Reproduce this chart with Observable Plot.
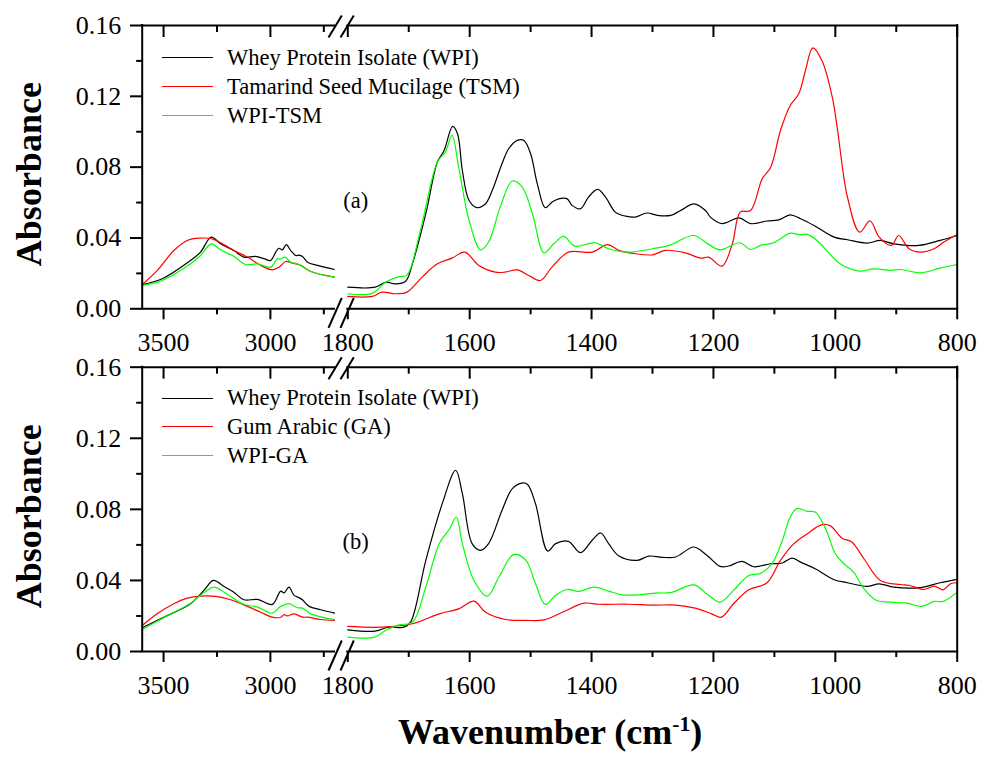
<!DOCTYPE html>
<html><head><meta charset="utf-8">
<script src="https://cdn.jsdelivr.net/npm/d3@7"></script>
<script src="https://cdn.jsdelivr.net/npm/@observablehq/plot@0.6"></script>
<style>
html,body{margin:0;padding:0;background:#fff;}
#wrap{position:relative;width:982px;height:757px;font-family:"Liberation Serif","Times New Roman",serif;color:#000;}
#wrap svg text{font-family:"Liberation Serif","Times New Roman",serif;}
.panel{position:absolute;left:0;}
.row{position:absolute;left:162px;height:0;white-space:nowrap;font-size:22.5px;}
.sw{position:absolute;left:0;top:-0.6px;width:51px;height:0;border-top:1.3px solid;}
.lab{position:absolute;left:65px;top:-13px;line-height:26px;}
#xlabel{position:absolute;left:398px;top:714px;font-size:36px;font-weight:bold;line-height:36px;height:36px;white-space:nowrap;}
#xlabel sup{font-size:0.6em;vertical-align:baseline;position:relative;top:-0.6em;line-height:0;}
</style>
</head><body>
<div id="wrap">
  <div id="pA" class="panel" style="top:0"></div>
  <div id="pB" class="panel" style="top:355px"></div>
  <div id="legA"></div>
  <div id="legB"></div>
  <div id="xlabel">Wavenumber (cm<sup>-1</sup>)</div>
</div>
<script>
// ---------- data (wavenumber cm-1, absorbance) ----------
const seriesA = ["Whey Protein Isolate (WPI)", "Tamarind Seed Mucilage (TSM)", "WPI-TSM"];
const seriesB = ["Whey Protein Isolate (WPI)", "Gum Arabic (GA)", "WPI-GA"];
const colors = ["#000000", "#ff0000", "#00ff00"];
const panelTags = ["(a)", "(b)"];
const xMajor = [3500, 3000, 1800, 1600, 1400, 1200, 1000, 800];
const xMinor = [3250, 2750, 1700, 1500, 1300, 1100, 900];
const yMajor = [0, 0.04, 0.08, 0.12, 0.16];
const yMinor = [0.02, 0.06, 0.10, 0.14];
const xBreak = [3600, 2700, 1800, 800];

// panel (a) – left segment
const wpiA_L = [[3600,.0137],[3506,.0170],[3374,.0273],[3327,.0320],[3277,.0405],[3233,.0367],[3171,.0329],[3124,.0292],[3069,.0296],[3030,.0283],[2999,.0273],[2975,.0320],[2960,.0342],[2944,.0333],[2925,.0363],[2905,.0329],[2881,.0301],[2866,.0303],[2850,.0296],[2826,.0263],[2780,.0245],[2700,.0222]];
const tsmA_L = [[3600,.0137],[3530,.0216],[3452,.0329],[3389,.0386],[3327,.0399],[3280,.0397],[3233,.0373],[3171,.0329],[3108,.0292],[3045,.0245],[2991,.0220],[2960,.0235],[2928,.0267],[2897,.0258],[2858,.0245],[2811,.0211],[2700,.0179]];
const wtA_L = [[3600,.0132],[3506,.0160],[3374,.0254],[3327,.0301],[3277,.0367],[3233,.0333],[3171,.0296],[3116,.0250],[3061,.0254],[2999,.0235],[2967,.0283],[2955,.0280],[2931,.0292],[2905,.0263],[2873,.0254],[2811,.0211],[2700,.0179]];
// panel (a) – right segment
const wpiA_R = [[1800,.0122],[1755,.0122],[1738,.0150],[1722,.0141],[1705,.0156],[1694,.0254],[1672,.0537],[1653,.0829],[1642,.0894],[1628,.1030],[1620,.0989],[1612,.0781],[1601,.0612],[1588,.0571],[1574,.0593],[1563,.0668],[1547,.0819],[1536,.0904],[1522,.0951],[1511,.0951],[1500,.0876],[1489,.0706],[1476,.0571],[1465,.0602],[1454,.0621],[1440,.0621],[1432,.0584],[1418,.0565],[1405,.0631],[1390,.0674],[1377,.0631],[1361,.0546],[1344,.0523],[1328,.0518],[1309,.0541],[1292,.0528],[1270,.0528],[1254,.0555],[1232,.0593],[1213,.0555],[1205,.0518],[1186,.0481],[1158,.0513],[1139,.0481],[1112,.0496],[1093,.0502],[1074,.0531],[1057,.0509],[1035,.0471],[1002,.0405],[980,.0390],[948,.0371],[926,.0386],[904,.0367],[863,.0358],[828,.0386],[800,.0414]];
const tsmA_R = [[1800,.0070],[1760,.0070],[1744,.0094],[1722,.0085],[1703,.0094],[1678,.0179],[1653,.0254],[1629,.0286],[1608,.0320],[1585,.0245],[1558,.0207],[1542,.0207],[1522,.0220],[1503,.0188],[1484,.0160],[1465,.0235],[1438,.0320],[1399,.0320],[1374,.0362],[1355,.0330],[1328,.0311],[1300,.0305],[1279,.0330],[1246,.0316],[1221,.0286],[1208,.0292],[1186,.0241],[1169,.0367],[1156,.0546],[1139,.0555],[1120,.0734],[1106,.0800],[1090,.1007],[1074,.1148],[1060,.1214],[1049,.1346],[1037,.1474],[1022,.1402],[1005,.1195],[997,.1026],[980,.0630],[960,.0433],[943,.0496],[928,.0405],[908,.0358],[896,.0414],[879,.0339],[860,.0320],[838,.0339],[822,.0377],[800,.0420]];
const wtA_R = [[1800,.0085],[1760,.0087],[1738,.0150],[1716,.0182],[1703,.0190],[1681,.0442],[1653,.0829],[1640,.0885],[1629,.0979],[1618,.0800],[1601,.0499],[1582,.0333],[1569,.0377],[1549,.0584],[1530,.0722],[1514,.0688],[1497,.0537],[1478,.0316],[1462,.0367],[1446,.0409],[1427,.0354],[1394,.0373],[1372,.0339],[1339,.0320],[1300,.0339],[1273,.0358],[1232,.0414],[1208,.0364],[1189,.0333],[1157,.0373],[1139,.0335],[1123,.0358],[1101,.0373],[1074,.0427],[1060,.0419],[1046,.0420],[1030,.0386],[992,.0254],[961,.0213],[937,.0226],[909,.0217],[893,.0222],[860,.0203],[828,.0230],[800,.0250]];

// panel (b) – left segment
const wpiB_L = [[3600,.0134],[3499,.0193],[3374,.0269],[3311,.0344],[3267,.0400],[3217,.0366],[3171,.0334],[3124,.0291],[3061,.0293],[2991,.0265],[2952,.0340],[2936,.0330],[2913,.0362],[2889,.0316],[2866,.0303],[2850,.0291],[2819,.0254],[2764,.0235],[2700,.0216]];
const gaB_L = [[3600,.0146],[3530,.0212],[3452,.0269],[3389,.0300],[3327,.0312],[3256,.0310],[3186,.0291],[3108,.0254],[3045,.0221],[2991,.0193],[2952,.0193],[2936,.0207],[2920,.0200],[2889,.0212],[2850,.0193],[2826,.0193],[2764,.0180],[2700,.0175]];
const wgB_L = [[3600,.0124],[3499,.0190],[3374,.0272],[3327,.0316],[3264,.0362],[3217,.0334],[3124,.0265],[3061,.0250],[2991,.0216],[2952,.0254],[2913,.0269],[2873,.0246],[2850,.0244],[2811,.0212],[2700,.0179]];
// panel (b) – right segment
const wpiB_R = [[1800,.0122],[1755,.0115],[1733,.0137],[1708,.0137],[1697,.0165],[1672,.0513],[1645,.0832],[1623,.1020],[1612,.0888],[1596,.0607],[1582,.0569],[1569,.0607],[1547,.0794],[1530,.0917],[1514,.0948],[1505,.0940],[1492,.0832],[1472,.0565],[1459,.0607],[1438,.0620],[1418,.0556],[1399,.0626],[1385,.0667],[1372,.0607],[1355,.0537],[1325,.0513],[1306,.0537],[1284,.0530],[1262,.0532],[1232,.0588],[1210,.0539],[1189,.0479],[1175,.0481],[1153,.0507],[1134,.0477],[1106,.0494],[1087,.0498],[1071,.0526],[1057,.0503],[1033,.0466],[1002,.0404],[980,.0387],[948,.0366],[928,.0381],[904,.0362],[860,.0360],[828,.0387],[800,.0406]];
const gaB_R = [[1800,.0141],[1744,.0137],[1694,.0156],[1650,.0212],[1618,.0240],[1593,.0283],[1574,.0221],[1541,.0180],[1508,.0175],[1478,.0178],[1448,.0221],[1412,.0272],[1388,.0266],[1339,.0266],[1300,.0261],[1262,.0261],[1230,.0244],[1203,.0212],[1187,.0193],[1167,.0269],[1142,.0347],[1112,.0387],[1090,.0513],[1068,.0607],[1046,.0663],[1022,.0714],[1008,.0707],[989,.0638],[973,.0616],[953,.0522],[926,.0400],[893,.0377],[879,.0373],[855,.0349],[838,.0368],[823,.0347],[811,.0381],[800,.0387]];
const wgB_R = [[1800,.0081],[1756,.0081],[1738,.0118],[1716,.0150],[1694,.0165],[1672,.0362],[1650,.0607],[1633,.0691],[1622,.0757],[1612,.0607],[1593,.0400],[1571,.0312],[1552,.0419],[1528,.0545],[1508,.0514],[1492,.0381],[1476,.0265],[1459,.0316],[1440,.0349],[1421,.0338],[1396,.0362],[1372,.0340],[1350,.0319],[1322,.0319],[1295,.0329],[1270,.0332],[1232,.0375],[1208,.0316],[1189,.0278],[1167,.0344],[1142,.0428],[1123,.0439],[1104,.0494],[1087,.0625],[1074,.0757],[1063,.0804],[1046,.0789],[1033,.0785],[1016,.0691],[1000,.0550],[986,.0494],[970,.0447],[953,.0353],[932,.0287],[910,.0278],[883,.0272],[858,.0254],[838,.0282],[823,.0282],[800,.0334]];

// ---------- layout ----------
const FONT = '"Liberation Serif","Times New Roman",serif';
const X_RANGE = [141.7, 334, 347.3, 956.7];
const LEFT_PX_PER_UNIT = (X_RANGE[1] - X_RANGE[0]) / (xBreak[0] - xBreak[1]);

function panel(el, cfg) {
  const {height, marginTop, marginBottom, lines, tag} = cfg;
  const yMax = yMajor[yMajor.length - 1];
  const innerH = height - marginTop - marginBottom;
  const ypp = yMax / innerH;               // data units per pixel (y)
  const xpp = 1 / LEFT_PX_PER_UNIT;        // data units per pixel (x, left segment)
  const K = {stroke: "#000", strokeWidth: 2};
  const marks = [];
  lines.forEach(([L, R], i) => {
    for (const seg of [L, R]) {
      marks.push(Plot.line(seg, {x: d => d[0], y: d => d[1], stroke: colors[i], strokeWidth: 1.2, curve: "catmull-rom"}));
    }
  });
  // frame with break
  marks.push(
    Plot.ruleY([0, yMax], {x1: xBreak[0], x2: xBreak[1], ...K, strokeLinecap: "square"}),
    Plot.ruleY([0, yMax], {x1: xBreak[2], x2: xBreak[3], ...K, strokeLinecap: "square"}),
    Plot.ruleX([xBreak[0], xBreak[3]], {y1: 0, y2: yMax, ...K, strokeLinecap: "square"}),
    // bottom ticks (outward) and top ticks (inward)
    Plot.ruleX(xMajor, {y1: 0, y2: -11 * ypp, ...K}),
    Plot.ruleX(xMinor, {y1: 0, y2: -6 * ypp, ...K}),
    Plot.ruleX(xMajor, {y1: yMax, y2: yMax - 12 * ypp, ...K}),
    Plot.ruleX(xMinor, {y1: yMax, y2: yMax - 7 * ypp, ...K}),
    // left ticks
    Plot.ruleY(yMajor, {x1: xBreak[0], x2: xBreak[0] + 11.7 * xpp, ...K}),
    Plot.ruleY(yMinor, {x1: xBreak[0], x2: xBreak[0] + 5.5 * xpp, ...K}),
    // break marks
    Plot.link([0], {x1: xBreak[1], x2: xBreak[2], y1: -19 * ypp, y2: 11 * ypp, dx: -6, ...K}),
    Plot.link([0], {x1: xBreak[1], x2: xBreak[2], y1: -19 * ypp, y2: 11 * ypp, dx: 6, ...K}),
    Plot.link([0], {x1: xBreak[1], x2: xBreak[2], y1: yMax - 12 * ypp, y2: yMax + 10 * ypp, dx: -6, ...K}),
    Plot.link([0], {x1: xBreak[1], x2: xBreak[2], y1: yMax - 12 * ypp, y2: yMax + 10 * ypp, dx: 6, ...K}),
    // texts
    Plot.text([tag], {text: d => d, frameAnchor: "top-left", dx: 213.5, dy: 175, fontSize: 22.5, textAnchor: "middle", lineAnchor: "middle", fill: "#000"}),
    Plot.text(["Absorbance"], {text: d => d, frameAnchor: "left", dx: -101.5, dy: 7, rotate: -90, fontSize: 36, fontWeight: "bold", textAnchor: "middle", lineAnchor: "bottom", fill: "#000"})
  );
  const chart = Plot.plot({
    width: 982, height, marginTop, marginBottom,
    marginLeft: X_RANGE[0], marginRight: 982 - X_RANGE[3],
    style: {fontFamily: FONT, fontSize: "26px", overflow: "visible", background: "transparent", color: "#000"},
    x: {type: "linear", domain: xBreak, range: X_RANGE, ticks: xMajor, tickFormat: d => String(d), tickSize: 0, tickPadding: 24, label: null},
    y: {domain: [0, yMax], ticks: yMajor, tickFormat: d3.format(".2f"), tickSize: 0, tickPadding: 21, label: null},
    marks
  });
  el.appendChild(chart);
}

function legend(el, names, rowsY) {
  names.forEach((n, i) => {
    const r = document.createElement("div");
    r.className = "row";
    r.style.top = rowsY[i] + "px";
    const s = document.createElement("div");
    s.className = "sw"; s.style.borderTopColor = colors[i];
    const t = document.createElement("div");
    t.className = "lab"; t.textContent = n;
    r.appendChild(s); r.appendChild(t);
    el.appendChild(r);
  });
}

panel(document.getElementById("pA"), {
  height: 355, marginTop: 25, marginBottom: 355 - 308.3, tag: panelTags[0],
  lines: [[wpiA_L, wpiA_R], [tsmA_L, tsmA_R], [wtA_L, wtA_R]]
});
panel(document.getElementById("pB"), {
  height: 402, marginTop: 366.7 - 355, marginBottom: 757 - 651, tag: panelTags[1],
  lines: [[wpiB_L, wpiB_R], [gaB_L, gaB_R], [wgB_L, wgB_R]]
});
legend(document.getElementById("legA"), seriesA, [58, 87, 116]);
legend(document.getElementById("legB"), seriesB, [398.3, 426.7, 455.7]);
</script>
</body></html>
